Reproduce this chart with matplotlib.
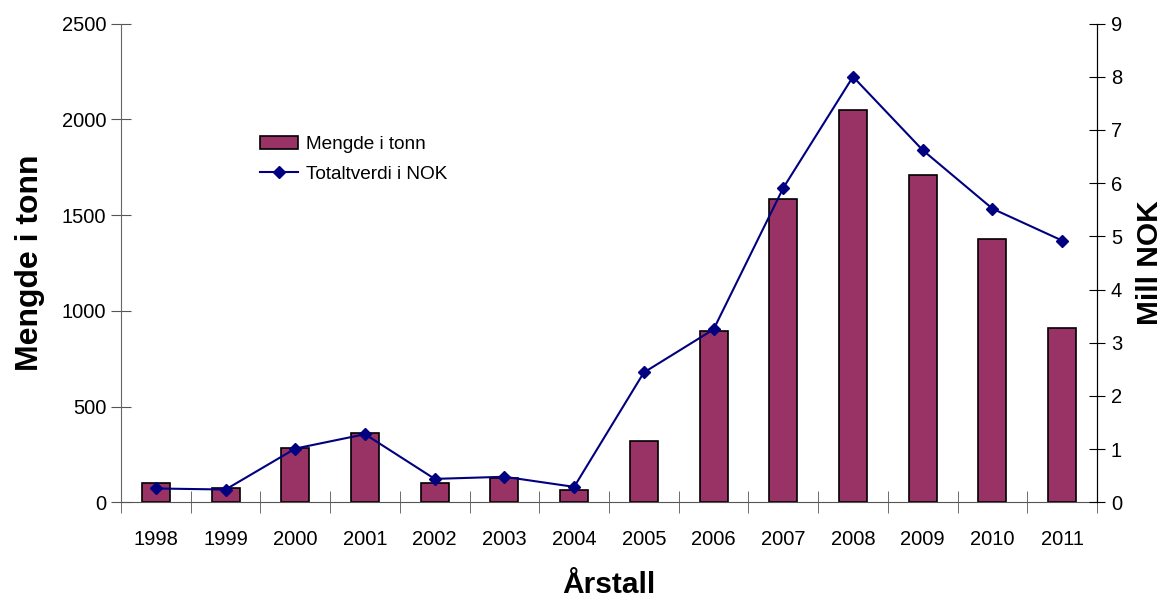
import matplotlib.pyplot as plt
import numpy as np

plt.rcParams['font.family'] = ['Liberation Sans', 'DejaVu Sans']

aar = ['1998', '1999', '2000', '2001', '2002', '2003', '2004',
       '2005', '2006', '2007', '2008', '2009', '2010', '2011']
mengde = [99, 73, 282, 363, 99, 125, 66, 322, 895, 1584, 2049, 1709, 1377, 910]   # tonn
verdi = [0.26, 0.24, 1.01, 1.28, 0.44, 0.48, 0.29, 2.44, 3.25, 5.91, 8.0, 6.62, 5.52, 4.92]  # mill NOK

x = np.arange(len(aar))

fig = plt.figure(figsize=(11.66, 6.03), dpi=100)
ax = fig.add_axes([0.1038, 0.167, 0.837, 0.794])
ax2 = ax.twinx()

stolper = ax.bar(x, mengde, width=0.4, color='#993366', edgecolor='black',
                 linewidth=1.2, label='Mengde i tonn', zorder=2)
linje, = ax2.plot(x, verdi, color='#000080', linewidth=1.5, marker='D',
                  markersize=6, label='Totaltverdi i NOK', zorder=3)

ax.set_xlim(-0.5, len(aar) - 0.5)
ax.set_ylim(0, 2500)
ax2.set_ylim(0, 9)
ax.set_yticks(np.arange(0, 2501, 500))
ax2.set_yticks(np.arange(0, 10, 1))

# årstall midt i hver kategori, tikkstreker på grensene
ax.set_xticks(x)
ax.set_xticklabels(aar)
ax.set_xticks(np.arange(-0.5, len(aar), 1), minor=True)
ax.tick_params(axis='x', which='major', length=0, pad=20, labelsize=14.5)
ax.tick_params(axis='x', which='minor', length=16, direction='inout', color='#555555')
ax.tick_params(axis='y', length=15, direction='inout', color='#555555',
               labelsize=14.5, pad=3)
ax2.tick_params(axis='y', length=12, direction='inout', color='black',
                labelsize=14.5, pad=4)

for a in (ax, ax2):
    a.spines['top'].set_visible(False)
ax.spines['left'].set_color('#666666')
ax.spines['bottom'].set_color('#555555')
ax2.spines['right'].set_color('black')
ax2.spines['left'].set_visible(False)
ax2.spines['bottom'].set_visible(False)

ax.set_ylabel('Mengde i tonn', fontsize=23, fontweight='bold', labelpad=12)
ax2.set_ylabel('Mill NOK', fontsize=21.5, fontweight='bold', rotation=90, labelpad=10)
ax.set_xlabel('Årstall', fontsize=21.5, fontweight='bold', labelpad=16)

fig.legend([stolper, linje], ['Mengde i tonn', 'Totaltverdi i NOK'],
           loc='upper left', bbox_to_anchor=(0.208, 0.803), frameon=False,
           fontsize=13.7, handlelength=2.0, handletextpad=0.45, labelspacing=0.65)

fig.savefig('out.png', dpi=100)
